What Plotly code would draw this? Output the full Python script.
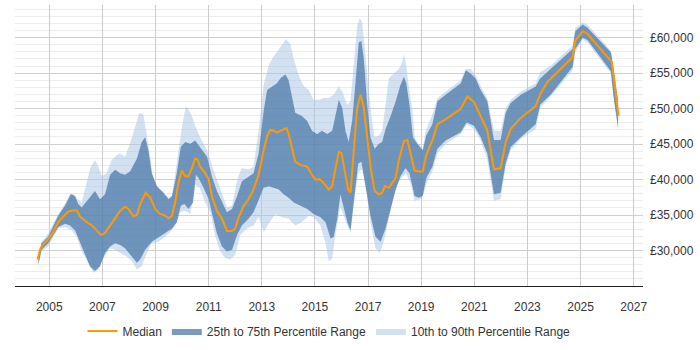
import plotly.graph_objects as go

# ---- data (decimal years, £) ----
median_x = [2004.56, 2004.65, 2004.77, 2004.96, 2005.15, 2005.34, 2005.53, 2005.72, 2005.84, 2006.03,
            2006.16, 2006.41, 2006.60, 2006.79, 2006.95, 2007.10, 2007.29, 2007.48, 2007.67, 2007.85,
            2007.98, 2008.17, 2008.30, 2008.42, 2008.63, 2008.80, 2008.99, 2009.17, 2009.36, 2009.49,
            2009.62, 2009.74, 2009.86, 2009.99, 2010.12, 2010.24, 2010.37, 2010.49, 2010.58, 2010.68,
            2010.87, 2011.00, 2011.12, 2011.31, 2011.50, 2011.69, 2011.88, 2012.00, 2012.13, 2012.32,
            2012.50, 2012.69, 2012.88, 2013.07, 2013.20, 2013.32, 2013.45, 2013.57, 2013.70, 2013.93,
            2014.01, 2014.14, 2014.26, 2014.45, 2014.71, 2014.89, 2015.02, 2015.18, 2015.33, 2015.52,
            2015.65, 2015.77, 2015.90, 2016.00, 2016.15, 2016.25, 2016.34, 2016.46, 2016.59, 2016.72,
            2016.84, 2016.97, 2017.09, 2017.25, 2017.41, 2017.53, 2017.63, 2017.78, 2017.91, 2018.04,
            2018.16, 2018.35, 2018.48, 2018.60, 2018.75, 2018.91, 2019.06, 2019.19, 2019.42, 2019.61,
            2019.92, 2020.49, 2020.74, 2020.99, 2021.24, 2021.49, 2021.74, 2021.99, 2022.18, 2022.37,
            2022.75, 2023.31, 2023.48, 2023.76, 2024.70, 2024.80, 2025.08, 2025.26, 2026.18, 2026.29,
            2026.43]
median_y = [28720, 30100, 30880, 31570, 32620, 34000, 34790, 35480, 35610, 35710,
            34790, 34000, 33540, 32850, 32170, 32480, 33540, 34550, 35610, 36170,
            35850, 34830, 35020, 36540, 38140, 37450, 35850, 35160, 34920, 34550,
            34920, 36760, 39520, 41270, 40450, 40450, 41600, 42970, 42830, 41820,
            40900, 40070, 37690, 35610, 34470, 32760, 32760, 33090, 34690, 36300,
            37230, 38610, 40680, 44130, 46060, 47030, 46890, 46650, 46890, 47250,
            46420, 44590, 42520, 42060, 41820, 40680, 39990, 40070, 39520, 38610,
            39070, 41500, 43890, 43760, 40900, 38610, 38140, 44130, 50100, 51940,
            50100, 45960, 41820, 38370, 37920, 38140, 39070, 38830, 39520, 40210,
            42750, 45410, 45590, 43660, 41270, 41140, 41140, 43440, 45510, 47800,
            48490, 49970, 51720, 50930, 48960, 46890, 41450, 41590, 45270, 47110,
            48720, 50340, 52040, 53790, 57240, 59530, 60910, 60550, 56550, 52870,
            48960]

p90_x = [2004.59, 2004.71, 2004.96, 2005.34, 2005.59, 2005.78, 2005.90, 2006.06, 2006.22, 2006.41,
         2006.56, 2006.72, 2006.85, 2006.98, 2007.16, 2007.35, 2007.54, 2007.67, 2007.85, 2008.04,
         2008.23, 2008.39, 2008.54, 2008.67, 2008.80, 2008.92, 2009.11, 2009.30, 2009.49, 2009.62,
         2009.80, 2009.99, 2010.14, 2010.24, 2010.37, 2010.49, 2010.68, 2010.94, 2011.18, 2011.44,
         2011.69, 2011.88, 2012.09, 2012.25, 2012.50, 2012.69, 2012.88, 2013.07, 2013.26, 2013.39,
         2013.57, 2013.76, 2013.91, 2014.08, 2014.20, 2014.39, 2014.58, 2014.77, 2014.95, 2015.14,
         2015.33, 2015.52, 2015.71, 2015.90, 2016.03, 2016.22, 2016.34, 2016.46, 2016.59, 2016.69,
         2016.78, 2016.88, 2017.00, 2017.15, 2017.25, 2017.41, 2017.53, 2017.66, 2017.78, 2017.97,
         2018.16, 2018.29, 2018.35, 2018.44, 2018.54, 2018.67, 2018.77, 2018.91, 2019.06, 2019.17,
         2019.42, 2019.61, 2019.92, 2020.49, 2020.68, 2020.86, 2021.05, 2021.24, 2021.49, 2021.74,
         2021.99, 2022.18, 2022.37, 2022.75, 2023.31, 2023.48, 2023.88, 2024.70, 2024.80, 2025.08,
         2025.26, 2026.14, 2026.22, 2026.41]
p90_y = [29400, 31240, 32400, 35160, 36540, 37920, 38000, 37230, 36760, 39520,
         41820, 42750, 41820, 40450, 40900, 42750, 43440, 43660, 43210, 45040,
         47580, 49420, 49180, 46420, 43210, 39760, 38830, 38140, 37450, 37690,
         42280, 47350, 50340, 49870, 48960, 47580, 45960, 44130, 41370, 38610,
         36070, 36300, 40210, 41590, 41450, 41820, 46890, 53320, 56080, 57010,
         57930, 59080, 59770, 59080, 57010, 54700, 53100, 52630, 51250, 51250,
         51490, 51490, 51940, 53100, 52400, 50500, 51030, 56080, 61600, 62760,
         62070, 58390, 53320, 48270, 45960, 46200, 46890, 50560, 54250, 54940,
         55630, 56550, 57700, 56080, 52870, 49650, 45730, 45040, 44350, 46890,
         49180, 51490, 52410, 54010, 55630, 55630, 54700, 53100, 51490, 46890,
         46890, 50100, 51250, 52410, 53560, 55170, 56080, 58840, 61380, 62150,
         61840, 58150, 56550, 51490]

p75_x = [2004.59, 2004.71, 2004.96, 2005.34, 2005.59, 2005.81, 2005.97, 2006.09, 2006.22, 2006.47,
         2006.72, 2006.91, 2007.10, 2007.29, 2007.48, 2007.67, 2007.85, 2008.04, 2008.30, 2008.48,
         2008.61, 2008.73, 2008.86, 2009.05, 2009.30, 2009.49, 2009.62, 2009.80, 2009.95, 2010.12,
         2010.31, 2010.49, 2010.68, 2010.94, 2011.12, 2011.31, 2011.54, 2011.69, 2011.88, 2012.07,
         2012.25, 2012.44, 2012.69, 2012.88, 2013.07, 2013.20, 2013.39, 2013.57, 2013.72, 2013.89,
         2014.01, 2014.14, 2014.26, 2014.51, 2014.71, 2014.89, 2015.08, 2015.27, 2015.46, 2015.65,
         2015.77, 2015.90, 2016.03, 2016.15, 2016.27, 2016.40, 2016.53, 2016.65, 2016.75, 2016.84,
         2016.97, 2017.09, 2017.25, 2017.41, 2017.53, 2017.66, 2017.85, 2018.04, 2018.22, 2018.35,
         2018.44, 2018.56, 2018.69, 2018.85, 2019.06, 2019.19, 2019.42, 2019.61, 2019.92, 2020.49,
         2020.68, 2020.86, 2021.05, 2021.24, 2021.49, 2021.74, 2021.99, 2022.18, 2022.37, 2022.75,
         2023.31, 2023.48, 2023.88, 2024.70, 2024.80, 2025.08, 2025.26, 2026.14, 2026.22, 2026.41]
p75_y = [29400, 31020, 31930, 34920, 36300, 37920, 37690, 36540, 36070, 37230,
         38380, 37230, 37920, 40680, 41370, 40900, 40680, 41140, 42970, 45280,
         45960, 44130, 40900, 39070, 38140, 37230, 37690, 40900, 44590, 45280,
         45040, 45510, 44590, 43210, 40450, 38380, 36540, 35390, 35850, 37690,
         39760, 40210, 40900, 43660, 49650, 52630, 53100, 53560, 54340, 54800,
         54010, 51490, 49420, 48960, 48270, 46890, 46420, 46890, 46420, 46890,
         49000, 51250, 50100, 46890, 45280, 48270, 53790, 59310, 59530, 57010,
         50560, 45960, 44350, 45040, 45280, 47110, 48960, 51030, 53320, 54480,
         53560, 50560, 45960, 45040, 44130, 46200, 47800, 51030, 51940, 53560,
         55390, 54940, 54250, 52630, 51030, 45590, 45590, 49420, 50800, 51940,
         53100, 54250, 55630, 58390, 60910, 61840, 61380, 57930, 56080, 51030]

p25_x = [2004.59, 2004.71, 2004.96, 2005.34, 2005.59, 2005.78, 2005.97, 2006.16, 2006.35, 2006.53,
         2006.72, 2006.91, 2007.10, 2007.29, 2007.48, 2007.67, 2007.85, 2008.04, 2008.30, 2008.42,
         2008.61, 2008.86, 2009.05, 2009.24, 2009.42, 2009.62, 2009.80, 2009.95, 2010.09, 2010.24,
         2010.41, 2010.52, 2010.62, 2010.81, 2011.00, 2011.12, 2011.31, 2011.50, 2011.69, 2011.88,
         2012.07, 2012.25, 2012.50, 2012.69, 2012.88, 2013.07, 2013.26, 2013.45, 2013.64, 2013.82,
         2014.01, 2014.20, 2014.45, 2014.71, 2014.95, 2015.21, 2015.40, 2015.59, 2015.71, 2015.84,
         2015.96, 2016.09, 2016.22, 2016.34, 2016.46, 2016.63, 2016.75, 2016.90, 2017.09, 2017.28,
         2017.47, 2017.66, 2017.85, 2018.04, 2018.22, 2018.41, 2018.56, 2018.75, 2018.91, 2019.06,
         2019.19, 2019.42, 2019.61, 2019.92, 2020.49, 2020.71, 2020.99, 2021.24, 2021.49, 2021.74,
         2021.99, 2022.18, 2022.37, 2022.75, 2023.31, 2023.48, 2023.88, 2024.70, 2024.80, 2025.08,
         2025.26, 2026.14, 2026.23, 2026.41]
p25_y = [28020, 30100, 31020, 33320, 33780, 33540, 32850, 31240, 29400, 27790,
         27100, 27790, 29640, 30550, 31020, 30790, 30330, 29400, 28260, 28720,
         30100, 31240, 31710, 32170, 32620, 33090, 34000, 36300, 36540, 35850,
         36760, 40680, 40210, 38830, 37230, 35390, 32400, 30550, 29860, 30100,
         32170, 33540, 34470, 35390, 37000, 38830, 39070, 38830, 38610, 37920,
         37450, 36760, 36300, 35850, 35160, 34690, 34000, 31710, 31930, 34470,
         37920, 36200, 34000, 32850, 36760, 42280, 42520, 39520, 34920, 31930,
         31240, 33090, 35850, 38610, 40450, 41590, 40900, 37690, 37450, 37690,
         40210, 41820, 44350, 45510, 46650, 48040, 47580, 45960, 43660, 37920,
         38140, 42280, 44590, 45960, 47800, 50560, 52000, 55860, 58390, 60000,
         59670, 55260, 51940, 47350]

p10_x = [2004.59, 2004.71, 2004.96, 2005.34, 2005.59, 2005.84, 2006.03, 2006.22, 2006.47, 2006.66,
         2006.85, 2007.04, 2007.29, 2007.48, 2007.67, 2007.92, 2008.11, 2008.30, 2008.48, 2008.67,
         2008.86, 2009.11, 2009.36, 2009.55, 2009.74, 2009.93, 2010.12, 2010.31, 2010.49, 2010.66,
         2010.87, 2011.06, 2011.25, 2011.44, 2011.63, 2011.81, 2012.00, 2012.19, 2012.44, 2012.69,
         2012.88, 2013.07, 2013.26, 2013.51, 2013.76, 2014.01, 2014.26, 2014.51, 2014.77, 2014.95,
         2015.21, 2015.40, 2015.52, 2015.65, 2015.77, 2015.96, 2016.09, 2016.22, 2016.34, 2016.53,
         2016.65, 2016.78, 2016.93, 2017.09, 2017.28, 2017.44, 2017.59, 2017.78, 2017.97, 2018.16,
         2018.41, 2018.60, 2018.75, 2018.98, 2019.10, 2019.23, 2019.42, 2019.61, 2019.92, 2020.49,
         2020.71, 2020.99, 2021.24, 2021.49, 2021.74, 2021.99, 2022.18, 2022.37, 2022.75, 2023.31,
         2023.48, 2023.88, 2024.70, 2024.80, 2025.08, 2025.26, 2026.14, 2026.41]
p10_y = [27930, 29860, 30550, 33090, 33320, 32850, 31930, 29860, 28260, 26880,
         27330, 28950, 30330, 30100, 29640, 29170, 28480, 27330, 27790, 29640,
         31020, 31240, 31930, 32620, 33540, 35390, 35610, 35160, 39300, 38830,
         36760, 35390, 31930, 29860, 28950, 28720, 29400, 32170, 33090, 33540,
         34690, 32620, 33780, 35160, 34690, 34470, 33540, 34000, 34920, 34690,
         33540, 31020, 28480, 28950, 32170, 36200, 34920, 33540, 32500, 38610,
         41140, 41370, 38610, 34000, 30330, 29640, 31240, 34470, 37690, 39760,
         40900, 39520, 37000, 37230, 38140, 39760, 41140, 43660, 45040, 46420,
         47800, 47110, 45510, 42750, 37000, 37230, 41820, 44130, 45730, 47110,
         50100, 51700, 55390, 57930, 59770, 59310, 54940, 46890]

year_ticks = [2005, 2007, 2009, 2011, 2013, 2015, 2017, 2019, 2021, 2023, 2025, 2027]
salary_ticks = [30000, 35000, 40000, 45000, 50000, 55000, 60000]

fig = go.Figure()

fig.add_trace(go.Scatter(
    x=p90_x + p10_x[::-1], y=p90_y + p10_y[::-1],
    fill='toself', fillcolor='rgba(164,196,228,0.5)',
    mode='lines', line=dict(width=0, color='rgba(164,196,228,0.5)'),
    name='10th to 90th Percentile Range', legendrank=3, hoverinfo='skip'))

fig.add_trace(go.Scatter(
    x=p75_x + p25_x[::-1], y=p75_y + p25_y[::-1],
    fill='toself', fillcolor='rgba(77,121,169,0.75)',
    mode='lines', line=dict(width=0, color='rgba(77,121,169,0.75)'),
    name='25th to 75th Percentile Range', legendrank=2, hoverinfo='skip'))

fig.add_trace(go.Scatter(
    x=median_x, y=median_y, mode='lines',
    line=dict(color='#ff9900', width=2),
    name='Median', legendrank=1))

fig.update_layout(
    width=700, height=350,
    margin=dict(l=15, r=57, t=5, b=58),
    paper_bgcolor='white', plot_bgcolor='white',
    font=dict(family='Liberation Sans, Arial, sans-serif', size=12, color='#333333'),
    showlegend=True,
    legend=dict(orientation='h', x=0.5, xanchor='center', y=-0.16, yanchor='middle',
                font=dict(size=12, color='#333333'), itemwidth=30),
)

fig.update_xaxes(
    range=[2003.71, 2027.35], tickvals=year_ticks, ticktext=[str(y) for y in year_ticks],
    showgrid=True, gridcolor='#cccccc', gridwidth=1,
    showline=True, linecolor='#222222', linewidth=1,
    ticks='', ticklabelstandoff=10, zeroline=False,
)

fig.update_yaxes(
    range=[25000, 64600], side='right', tickvals=salary_ticks,
    ticktext=[f'£{v:,}' for v in salary_ticks],
    showgrid=True, gridcolor='#d0d0d0', gridwidth=1,
    minor=dict(tick0=0, dtick=1000, showgrid=True, gridcolor='#ececec', gridwidth=1),
    showline=False, ticks='', ticklabelstandoff=6, zeroline=False,
)

fig.write_html('out.html')
